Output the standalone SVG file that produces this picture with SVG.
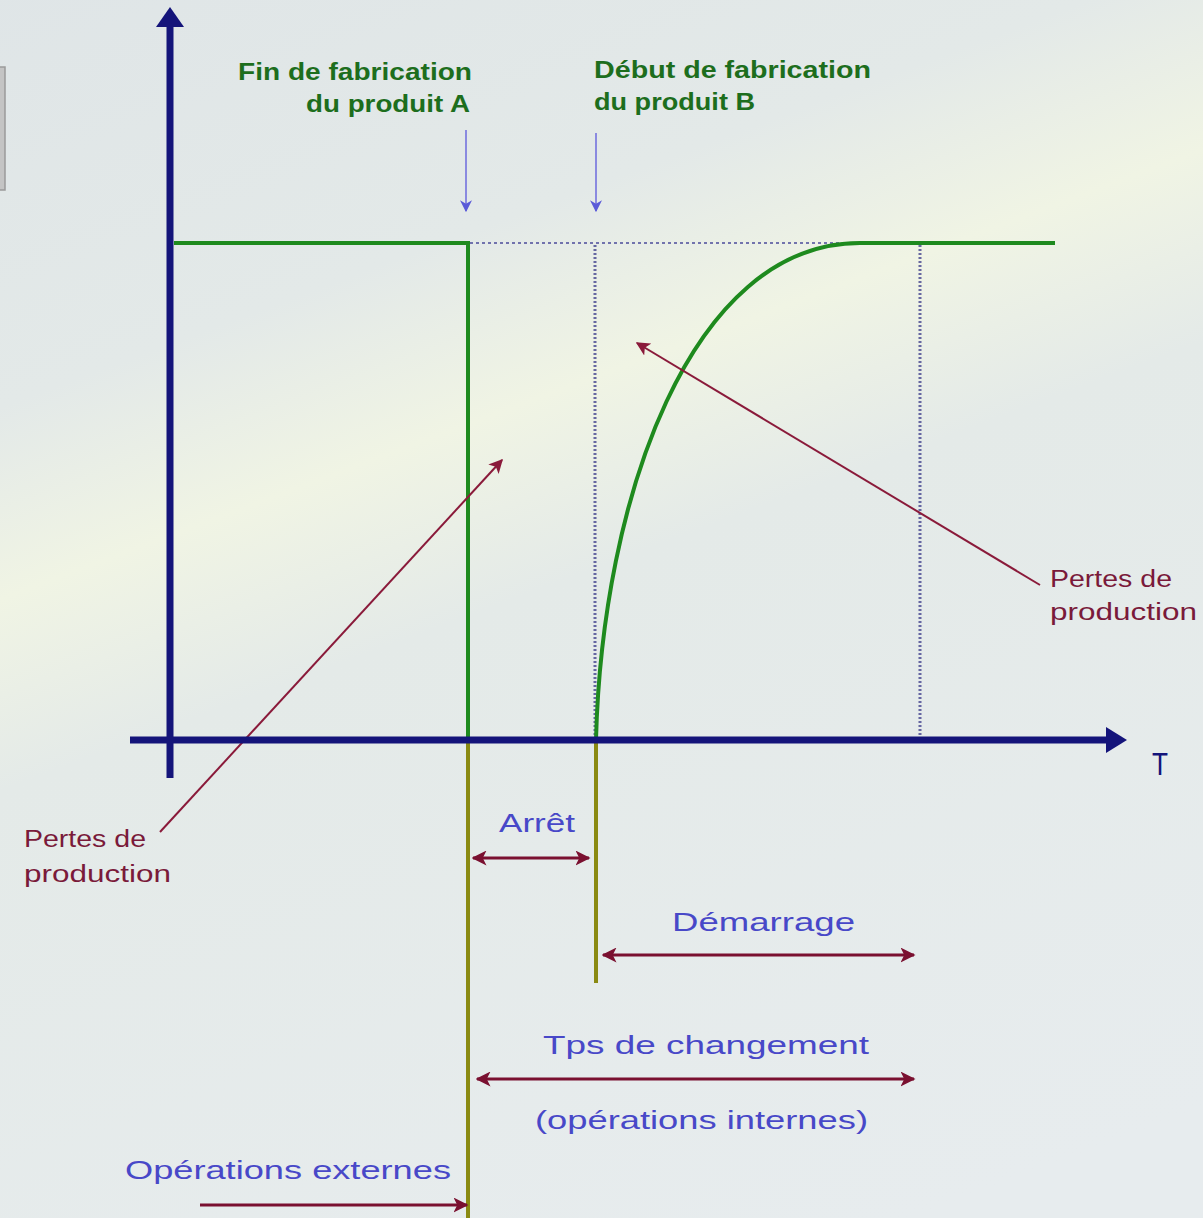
<svg xmlns="http://www.w3.org/2000/svg" width="1203" height="1218" viewBox="0 0 1203 1218">
<defs>
<linearGradient id="bg" gradientUnits="userSpaceOnUse" x1="390" y1="-187" x2="915" y2="1218">
<stop offset="0" stop-color="#dfe5e7"/>
<stop offset="0.28" stop-color="#e3e9e8"/>
<stop offset="0.4" stop-color="#f0f4e4"/>
<stop offset="0.52" stop-color="#e4eae8"/>
<stop offset="1" stop-color="#e7ecee"/>
</linearGradient>
<marker id="mr" viewBox="0 0 10 10" refX="9" refY="5" markerWidth="5" markerHeight="5" orient="auto-start-reverse" markerUnits="strokeWidth">
<path d="M0,0 L10,5 L0,10 L2.5,5 Z" fill="#7a1030"/>
</marker>
<marker id="mp" viewBox="0 0 10 10" refX="9" refY="5" markerWidth="7" markerHeight="7" orient="auto" markerUnits="strokeWidth">
<path d="M0,0 L10,5 L0,10 L2.5,5 Z" fill="#8a1a3a"/>
</marker>
<marker id="mb" viewBox="0 0 10 10" refX="9" refY="5" markerWidth="6" markerHeight="7" orient="auto" markerUnits="strokeWidth">
<path d="M0,0 L10,5 L0,10 L3,5 Z" fill="#5a5ad8"/>
</marker>
<style>
.t{font-family:"Liberation Sans",Arial,sans-serif;}
.g{fill:#1d6e1d;font-size:23px;font-weight:bold;}
.m{fill:#7a1a3a;font-size:23px;}
.b{fill:#4848c8;font-size:26px;}
.ax{stroke:#14147a;stroke-width:7;fill:none;}
.dot{stroke:#4a4a9a;stroke-width:2;stroke-dasharray:3,3;fill:none;opacity:0.75;}
.dotv{stroke:#3a3a8a;stroke-width:3;stroke-dasharray:2,2;fill:none;opacity:0.75;}
.gl{stroke:#1e8a1e;stroke-width:4;fill:none;}
.ol{stroke:#8a8a12;stroke-width:4;fill:none;}
.ar{stroke:#7a1030;stroke-width:3;fill:none;}
.pt{stroke:#8a1a3a;stroke-width:2;fill:none;}
.dn{stroke:#8a8ae0;stroke-width:2;fill:none;}
</style>
</defs>
<rect width="1203" height="1218" fill="url(#bg)"/>
<rect x="-1" y="67" width="6" height="123" fill="#c4c4c4" stroke="#9a9a9a" stroke-width="1.5"/>

<g id="connectors">
<line class="dot" x1="470" y1="243" x2="920" y2="243"/>
<line class="dotv" x1="595" y1="245" x2="595" y2="738"/>
<line class="dotv" x1="920" y1="245" x2="920" y2="738"/>
<path class="gl" d="M174,243 H468 V740"/>
<path class="gl" d="M596,740 C602,500 690,243 860,243 H1055"/>
<line class="ol" x1="468" y1="742" x2="468" y2="1218"/>
<line class="ol" x1="596" y1="742" x2="596" y2="983"/>
<line class="dn" x1="466" y1="130" x2="466" y2="211" marker-end="url(#mb)"/>
<line class="dn" x1="596" y1="133" x2="596" y2="211" marker-end="url(#mb)"/>
<line class="pt" x1="160" y1="832" x2="502" y2="460" marker-end="url(#mp)"/>
<line class="pt" x1="1040" y1="585" x2="637" y2="343" marker-end="url(#mp)"/>
<line class="ar" x1="473" y1="858" x2="589" y2="858" marker-start="url(#mr)" marker-end="url(#mr)"/>
<line class="ar" x1="603" y1="955" x2="914" y2="955" marker-start="url(#mr)" marker-end="url(#mr)"/>
<line class="ar" x1="477" y1="1079" x2="914" y2="1079" marker-start="url(#mr)" marker-end="url(#mr)"/>
<line class="ar" x1="200" y1="1205" x2="467" y2="1205" marker-end="url(#mr)"/>
</g>

<g id="axes">
<line class="ax" x1="170" y1="24" x2="170" y2="778"/>
<path d="M156,27 L170,7 L184,27 Z" fill="#14147a"/>
<line class="ax" x1="130" y1="740" x2="1110" y2="740"/>
<path d="M1106,727 L1127,740 L1106,753 Z" fill="#14147a"/>
<text class="t" x="1160" y="775" text-anchor="middle" font-size="32" fill="#14147a" textLength="16" lengthAdjust="spacingAndGlyphs">T</text>
</g>

<g id="label-fin">
<text class="t g" x="238" y="80" textLength="234" lengthAdjust="spacingAndGlyphs">Fin de fabrication</text>
<text class="t g" x="306" y="112" textLength="164" lengthAdjust="spacingAndGlyphs">du produit A</text>
</g>
<g id="label-debut">
<text class="t g" x="594" y="78" textLength="277" lengthAdjust="spacingAndGlyphs">Début de fabrication</text>
<text class="t g" x="594" y="110" textLength="161" lengthAdjust="spacingAndGlyphs">du produit B</text>
</g>
<g id="label-pertes-left">
<text class="t m" x="24" y="847" textLength="122" lengthAdjust="spacingAndGlyphs">Pertes de</text>
<text class="t m" x="24" y="882" textLength="147" lengthAdjust="spacingAndGlyphs">production</text>
</g>
<g id="label-pertes-right">
<text class="t m" x="1050" y="587" textLength="122" lengthAdjust="spacingAndGlyphs">Pertes de</text>
<text class="t m" x="1050" y="620" textLength="147" lengthAdjust="spacingAndGlyphs">production</text>
</g>
<g id="label-arret">
<text class="t b" x="499" y="832" textLength="76" lengthAdjust="spacingAndGlyphs">Arrêt</text>
</g>
<g id="label-demarrage">
<text class="t b" x="672" y="931" textLength="183" lengthAdjust="spacingAndGlyphs">Démarrage</text>
</g>
<g id="label-tps">
<text class="t b" x="543" y="1054" textLength="326" lengthAdjust="spacingAndGlyphs">Tps de changement</text>
<text class="t b" x="535" y="1129" textLength="333" lengthAdjust="spacingAndGlyphs">(opérations internes)</text>
</g>
<g id="label-externes">
<text class="t b" x="125" y="1179" textLength="326" lengthAdjust="spacingAndGlyphs">Opérations externes</text>
</g>
</svg>
